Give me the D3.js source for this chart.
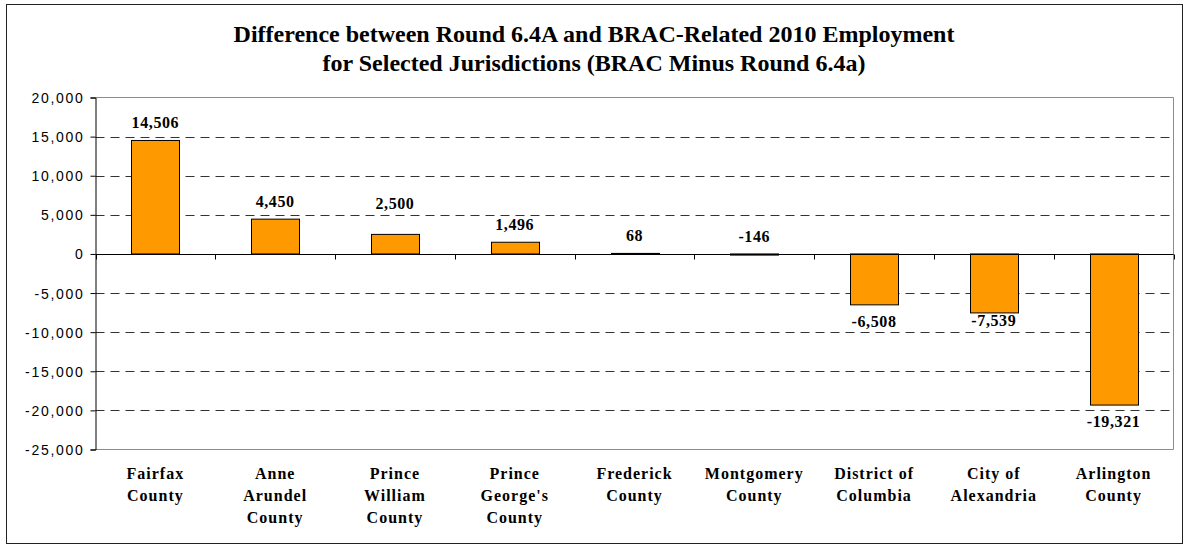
<!DOCTYPE html>
<html>
<head>
<meta charset="utf-8">
<script src="https://cdn.jsdelivr.net/npm/d3@7"></script>
<style>
  body { margin: 0; background: #fff; }
  svg { display: block; }
  .ylab { font-family: "Liberation Sans", Arial, sans-serif; font-size: 14px; letter-spacing: 1.7px; fill: #000; }
  .cat { font-family: "Liberation Serif", "Times New Roman", serif; font-size: 16px; font-weight: bold; letter-spacing: 1px; fill: #000; }
  .val { font-family: "Liberation Serif", "Times New Roman", serif; font-size: 16px; font-weight: bold; letter-spacing: 0.6px; fill: #000; }
  .title { font-family: "Liberation Serif", "Times New Roman", serif; font-size: 24px; font-weight: bold; fill: #000; }
</style>
</head>
<body>
<div id="chart"></div>
<script>
// jurisdictions, wrapped the way the original axis shows them
var categories = [
  "Fairfax\nCounty",
  "Anne\nArundel\nCounty",
  "Prince\nWilliam\nCounty",
  "Prince\nGeorge's\nCounty",
  "Frederick\nCounty",
  "Montgomery\nCounty",
  "District of\nColumbia",
  "City of\nAlexandria",
  "Arlington\nCounty"
];
// BRAC minus Round 6.4a, 2010 employment
var values = [14506, 4450, 2500, 1496, 68, -146, -6508, -7539, -19321];
var yTicks = [20000, 15000, 10000, 5000, 0, -5000, -10000, -15000, -20000, -25000];
var titleLines = [
  "Difference between Round 6.4A and BRAC-Related 2010 Employment",
  "for Selected Jurisdictions (BRAC Minus Round 6.4a)"
];

var w = 1188;
var h = 546;
// plot area (window.top is reserved, so no bare "top" here)
var plotL = 95.5, plotR = 1173.5, plotT = 97.5, plotB = 449.5;

var fmt = d3.formatLocale({ decimal: ".", thousands: ",", grouping: [3], currency: ["$", ""], minus: "-" }).format(",");

var svg = d3.select("#chart")
            .append("svg")
            .attr("width", w)
            .attr("height", h);

// outer chart frame
svg.append("rect")
   .attr("x", 6.5)
   .attr("y", 4.5)
   .attr("width", 1176)
   .attr("height", 539)
   .attr("fill", "#fff")
   .attr("stroke", "#222")
   .attr("stroke-width", 1);

var xScale = d3.scaleBand()
               .domain(d3.range(categories.length))
               .range([plotL, plotR])
               .paddingInner(0.6)
               .paddingOuter(0.3);

var yScale = d3.scaleLinear()
               .domain([d3.min(yTicks), d3.max(yTicks)])
               .range([plotB, plotT]);

var gridTicks = yTicks.filter(function(d) { return d != 0 && d != d3.max(yTicks) && d != d3.min(yTicks); });

// dashed gridlines (skip the top, zero and bottom ones)
svg.append("g")
   .selectAll("line")
   .data(gridTicks)
   .enter()
   .append("line")
   .attr("x1", plotL)
   .attr("x2", plotR)
   .attr("y1", function(d) { return Math.round(yScale(d)) + 0.5; })
   .attr("y2", function(d) { return Math.round(yScale(d)) + 0.5; })
   .attr("stroke", "#333")
   .attr("stroke-width", 1)
   .attr("stroke-dasharray", "9,6");

// plot area border: grey top / right / bottom
svg.append("path")
   .attr("d", "M" + plotL + "," + plotT + "H" + plotR + "V" + plotB + "H" + plotL)
   .attr("fill", "none")
   .attr("stroke", "#8c8c8c")
   .attr("stroke-width", 1);

// bars
svg.append("g")
   .selectAll("rect")
   .data(values)
   .enter()
   .append("rect")
   .attr("x", function(d, i) { return Math.round(xScale(i)) + 0.5; })
   .attr("y", function(d) { return yScale(Math.max(0, d)); })
   .attr("width", Math.round(xScale.bandwidth()))
   .attr("height", function(d) { return Math.abs(yScale(d) - yScale(0)); })
   .attr("fill", "#ff9900")
   .attr("stroke", "#000")
   .attr("stroke-width", 1);

// y axis
var yAxis = d3.axisLeft(yScale)
              .tickValues(yTicks)
              .tickSize(5)
              .tickPadding(6)
              .tickFormat(fmt);

var gy = svg.append("g")
            .attr("transform", "translate(" + plotL + ",0)")
            .call(yAxis);
gy.attr("font-family", null).attr("font-size", null);
gy.select(".domain").attr("stroke", "#000");
gy.selectAll(".tick line").attr("stroke", "#000");
gy.selectAll(".tick text")
  .attr("class", "ylab")
  .attr("dy", "0.36em");

// zero line with category boundary ticks
var zeroY = Math.round(yScale(0)) + 0.5;
svg.append("line")
   .attr("x1", plotL)
   .attr("x2", plotR)
   .attr("y1", zeroY)
   .attr("y2", zeroY)
   .attr("stroke", "#000")
   .attr("stroke-width", 1);

var step = xScale.step();
svg.append("g")
   .selectAll("line")
   .data(d3.range(categories.length + 1))
   .enter()
   .append("line")
   .attr("x1", function(d) { return Math.round(plotL + d * step) + 0.5; })
   .attr("x2", function(d) { return Math.round(plotL + d * step) + 0.5; })
   .attr("y1", zeroY)
   .attr("y2", zeroY + 5)
   .attr("stroke", "#000");

// data labels: above the bar end for positive (and tiny negative) values, below otherwise.
// if a label would sit on a gridline, lift it just above that gridline
function labelY(d) {
  var base = d > -1000 ? yScale(Math.max(0, d)) - 12 : yScale(d) + 22;
  gridTicks.forEach(function(t) {
    var gy = yScale(t);
    if (gy > base - 13 && gy < base + 3) base = gy - 6;
  });
  return base;
}

svg.append("g")
   .selectAll("text")
   .data(values)
   .enter()
   .append("text")
   .attr("class", "val")
   .attr("text-anchor", "middle")
   .attr("x", function(d, i) { return xScale(i) + xScale.bandwidth() / 2; })
   .attr("y", labelY)
   .text(function(d) { return fmt(d); });

// category labels
var catG = svg.append("g")
              .selectAll("text")
              .data(categories)
              .enter()
              .append("text")
              .attr("class", "cat")
              .attr("text-anchor", "middle")
              .attr("x", function(d, i) { return xScale(i) + xScale.bandwidth() / 2; })
              .attr("y", plotB + 29);

catG.selectAll("tspan")
    .data(function(d) { return d.split("\n"); })
    .enter()
    .append("tspan")
    .attr("x", function() { return d3.select(this.parentNode).attr("x"); })
    .attr("dy", function(d, i) { return i == 0 ? 0 : 22; })
    .text(function(d) { return d; });

// title
svg.append("g")
   .selectAll("text")
   .data(titleLines)
   .enter()
   .append("text")
   .attr("class", "title")
   .attr("text-anchor", "middle")
   .attr("x", 594)
   .attr("y", function(d, i) { return 42 + i * 29; })
   .text(function(d) { return d; });
</script>
</body>
</html>
